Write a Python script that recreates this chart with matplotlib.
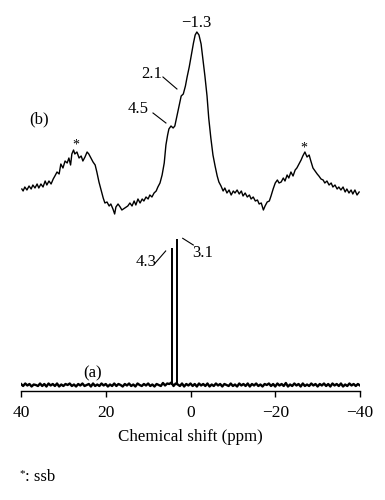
import numpy as np
import matplotlib
matplotlib.use("Agg")
import matplotlib.pyplot as plt

plt.rcParams["font.family"] = ["Liberation Serif", "DejaVu Serif"]

# spectre (b) : deplacement chimique (ppm) et intensite
shift_b = [39.8, 39.5, 39.1, 38.6, 38.1, 37.6, 37.2, 36.7, 36.2, 35.8, 35.3, 34.8, 34.3, 33.9,
           33.4, 32.9, 32.4, 32.0, 31.5, 31.0, 30.6, 30.1, 29.6, 29.1, 28.7, 28.3, 28.0, 27.6,
           27.3, 26.8, 26.3, 25.8, 25.4, 24.9, 24.4, 24.0, 23.5, 23.0, 22.5, 22.1, 21.6, 21.1,
           20.6, 20.2, 19.7, 19.2, 18.8, 18.3, 17.9, 17.6, 17.1, 16.6, 16.2, 15.5, 14.8, 14.3,
           13.8, 13.3, 12.9, 12.4, 11.9, 11.4, 11.0, 10.5, 10.0, 9.6, 9.1, 8.6, 8.1, 7.7, 7.2,
           6.7, 6.2, 5.8, 5.4, 5.1, 4.6, 4.1, 3.7, 3.2, 2.7, 2.2, 1.7, 1.2, 0.8, 0.3, -0.2,
           -0.7, -1.1, -1.5, -2.0, -2.5, -2.9, -3.4, -3.9, -4.3, -4.8, -5.3, -5.8, -6.3, -6.7,
           -7.2, -7.7, -8.1, -8.6, -9.1, -9.6, -10.1, -10.5, -11.0, -11.5, -12.0, -12.4, -12.9,
           -13.4, -13.9, -14.3, -14.8, -15.3, -15.8, -16.2, -16.7, -17.2, -17.6, -18.1, -18.6,
           -19.0, -19.5, -20.0, -20.5, -20.9, -21.4, -21.9, -22.3, -22.8, -23.2, -23.7, -24.2,
           -24.7, -25.1, -25.6, -26.1, -26.5, -27.0, -27.5, -28.0, -28.4, -28.9, -29.4, -29.9,
           -30.3, -30.8, -31.3, -31.7, -32.2, -32.7, -33.2, -33.6, -34.1, -34.6, -35.0, -35.5,
           -36.0, -36.5, -36.9, -37.4, -37.9, -38.3, -38.8, -39.3, -39.8]
int_b = [21, 19, 23, 20, 24, 21, 25, 22, 26, 22, 26, 23, 29, 25,
         29, 26, 31, 34, 38, 36, 46, 42, 49, 47, 52, 45, 56, 60,
         56, 58, 52, 54, 49, 53, 58, 56, 52, 48, 45, 38, 28, 20,
         12, 7, 8, 4, 6, 1, -4, 3, 6, 3, 0, 2, 4, 7,
         4, 9, 5, 11, 7, 11, 9, 13, 11, 15, 13, 17, 19, 23, 27,
         35, 47, 65, 75, 81, 84, 82, 84, 94, 104, 114, 116, 124, 133, 143, 155,
         167, 175, 178, 175, 166, 152, 134, 114, 92, 72, 55, 44, 34, 28,
         24, 19, 22, 17, 20, 15, 19, 17, 20, 16, 19, 14, 17,
         13, 15, 11, 13, 9, 10, 6, 7, 0, 4, 8, 9,
         14, 21, 27, 30, 27, 28, 32, 29, 35, 32, 38, 34,
         40, 42, 46, 50, 54, 58, 53, 55, 49, 42, 39, 36,
         34, 31, 30, 27, 29, 25, 27, 23, 25, 21, 23, 20,
         23, 18, 21, 17, 20, 16, 20, 15, 18]

# spectre (a) : bruit de ligne de base (de 40 a -40 ppm) et deux raies fines
noise_a = [1.0, -1.0, 1.5, -0.5, 1.0, -1.5, 0.5, 0.0, -1.0, 1.5, -1.0, 1.0, -1.5, 1.5, -0.5, 1.0,
           -1.0, 1.5, -1.5, 0.5, -1.0, 1.0, 0.0, 1.5, -1.0, 0.5, -1.5, 1.0, -0.5, 1.5, -1.0, 0.0,
           1.0, -1.5, 1.5, -1.0, 0.5, -1.0, 1.5, -0.5, 1.0, -1.5, 0.5, -1.0, 1.5, -1.0, 1.0, 0.0,
           -1.5, 1.0, -0.5, 1.5, -1.0, 0.5, -1.5, 1.5, 0.0, -1.0, 1.0, -0.5, 1.5, -1.0, 0.5, -1.5,
           1.0, 0.0, -1.0, 2.0, -0.5, 1.5, 1.0, 2.5, -1.0, 1.5, 0.5, -1.0, 1.5, -1.5, 1.0, -0.5,
           1.5, -1.0, 1.0, -1.5, 1.5, -0.5, 1.0, -1.0, 1.5, -1.5, 0.5, -1.0, 1.5, -0.5, 1.0, -1.5,
           1.0, 0.0, -1.0, 1.5, -1.0, 0.5, -1.5, 1.5, -0.5, 1.0, -1.0, 1.5, -1.5, 1.0, -0.5, 1.5,
           -1.0, 0.5, -1.5, 1.0, 0.0, 1.5, -1.0, 1.0, -1.5, 1.5, -0.5, 1.0, -1.0, 2.0, -1.5, 0.5,
           -1.0, 1.5, -0.5, 1.0, -1.5, 1.5, -1.0, 0.5, -1.0, 1.5, -0.5, 1.0, -1.5, 1.0, -0.5, 1.5,
           -1.0, 1.0, -1.5, 1.5, -0.5, 1.0, -1.0, 1.5, -1.5, 0.5, -1.0, 1.5, -0.5, 1.0, -1.0, 1.0,
           -0.5]
peak_a_ppm = [4.3, 3.1]
peak_a_int = [137.5, 146]

xticks = [40, 20, 0, -20, -40]

offset_b = 181
offset_a = 6

fig = plt.figure(figsize=(3.85, 5), dpi=100)
ax = fig.add_axes([21 / 385, 109 / 500, 339 / 385, 381 / 500])

shift_a = np.linspace(40, -40, len(noise_a))
ax.plot(shift_b, np.array(int_b) + offset_b, color="black", lw=1.0)
ax.plot(shift_a, np.array(noise_a) + offset_a, color="black", lw=1.7)
ax.vlines(peak_a_ppm, offset_a, np.array(peak_a_int) + offset_a, color="black", lw=1.4)

ax.set_xlim(40, -40)
ax.set_ylim(0, 381)
for s in ["top", "left", "right"]:
    ax.spines[s].set_visible(False)
ax.spines["bottom"].set_linewidth(1.0)
ax.set_yticks([])
ax.set_xticks(xticks)
ax.tick_params(axis="x", direction="out", length=4, width=1, labelsize=12.5, pad=6)
ax.set_xlabel("Chemical shift (ppm)", fontsize=12.2, labelpad=6)

# annotations
fs = 12
ax.text(-1.3, 368, "\u22121.3", ha="center", va="center", fontsize=fs)
ax.text(9.1, 317, "2.1", ha="center", va="center", fontsize=fs)
ax.plot([6.5, 3.2], [314, 302], color="black", lw=0.8)
ax.text(12.4, 282, "4.5", ha="center", va="center", fontsize=fs)
ax.plot([8.85, 5.8], [278, 268], color="black", lw=0.8)
ax.text(35.75, 272, "(b)", ha="center", va="center", fontsize=fs)
ax.text(27.0, 246, "*", ha="center", va="center", fontsize=10)
ax.text(-26.8, 243, "*", ha="center", va="center", fontsize=10)

ax.text(10.5, 129, "4.3", ha="center", va="center", fontsize=fs)
ax.plot([8.38, 5.86], [127.7, 140], color="black", lw=0.8)
ax.text(-2.8, 138, "3.1", ha="center", va="center", fontsize=fs)
ax.plot([1.84, -0.66], [152.7, 146], color="black", lw=0.8)
ax.text(23.2, 18, "(a)", ha="center", va="center", fontsize=fs)

fig.text(19 / 385, 1 - 474 / 500, "*", ha="left", va="center", fontsize=8)
fig.text(25 / 385, 1 - 477 / 500, ": ssb", ha="left", va="center", fontsize=12)

fig.savefig("out.png", dpi=100)
